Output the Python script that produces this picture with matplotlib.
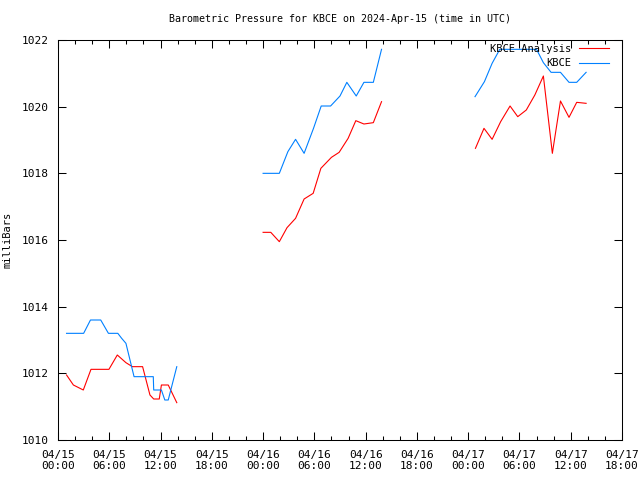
import matplotlib
matplotlib.use("Agg")
import matplotlib.pyplot as plt
import numpy as np

# hours since 2024-04-15 00:00 UTC
analysis_t = [
    [1.0, 1.8, 2.96, 3.86, 5.96, 6.94, 7.95, 8.7, 9.9, 10.76, 11.2, 11.85, 12.1, 12.9, 13.9],
    [24.0, 24.9, 25.9, 26.8, 27.8, 28.8, 29.86, 30.76, 32.0, 32.9, 33.95, 34.85, 35.8, 36.9, 37.86],
    [48.85, 49.85, 50.8, 51.8, 52.9, 53.8, 54.8, 55.8, 56.8, 57.85, 58.8, 59.8, 60.7, 61.8],
]
analysis_v = [
    [1011.95, 1011.65, 1011.5, 1012.12, 1012.12, 1012.55, 1012.32, 1012.2, 1012.2, 1011.35, 1011.23, 1011.23, 1011.65, 1011.65, 1011.12],
    [1016.23, 1016.23, 1015.95, 1016.37, 1016.65, 1017.23, 1017.4, 1018.15, 1018.48, 1018.63, 1019.05, 1019.58, 1019.48, 1019.52, 1020.15],
    [1018.75, 1019.35, 1019.02, 1019.55, 1020.02, 1019.7, 1019.9, 1020.35, 1020.92, 1018.6, 1020.17, 1019.68, 1020.13, 1020.1],
]
kbce_t = [
    [1.0, 3.0, 3.8, 5.0, 5.9, 7.0, 7.45, 7.95, 8.9, 11.15, 11.2, 12.1, 12.5, 12.9, 13.9],
    [24.0, 25.9, 26.9, 27.8, 28.8, 29.9, 30.8, 31.9, 33.0, 33.8, 34.9, 35.8, 36.9, 37.86],
    [48.8, 49.9, 50.8, 51.7, 52.8, 53.8, 54.8, 56.0, 56.8, 57.7, 58.8, 59.8, 60.7, 61.8],
]
kbce_v = [
    [1013.2, 1013.2, 1013.6, 1013.6, 1013.2, 1013.2, 1013.05, 1012.9, 1011.9, 1011.9, 1011.5, 1011.5, 1011.2, 1011.2, 1012.2],
    [1018.0, 1018.0, 1018.65, 1019.02, 1018.6, 1019.35, 1020.02, 1020.02, 1020.32, 1020.73, 1020.32, 1020.73, 1020.73, 1021.72],
    [1020.3, 1020.75, 1021.3, 1021.72, 1021.72, 1021.72, 1021.72, 1021.72, 1021.32, 1021.03, 1021.03, 1020.73, 1020.73, 1021.03],
]

xtick_pos = [0, 6, 12, 18, 24, 30, 36, 42, 48, 54, 60, 66]
xtick_labels = ["04/15\n00:00", "04/15\n06:00", "04/15\n12:00", "04/15\n18:00",
                "04/16\n00:00", "04/16\n06:00", "04/16\n12:00", "04/16\n18:00",
                "04/17\n00:00", "04/17\n06:00", "04/17\n12:00", "04/17\n18:00"]
yticks = [1010, 1012, 1014, 1016, 1018, 1020, 1022]

plt.rcParams['font.family'] = ['DejaVu Sans Mono']
fig = plt.figure(figsize=(6.4, 4.8), dpi=100)
ax = fig.add_axes([58/640, 40/480, 564/640, 400/480])

red = '#ff0000'
blue = '#0080ff'
for i, (t, v) in enumerate(zip(analysis_t, analysis_v)):
    ax.plot(t, v, color=red, lw=0.8, antialiased=True, label='KBCE Analysis' if i == 0 else None)
for i, (t, v) in enumerate(zip(kbce_t, kbce_v)):
    ax.plot(t, v, color=blue, lw=0.8, antialiased=True, label='KBCE' if i == 0 else None)

ax.set_xlim(0, 66)
ax.set_ylim(1010, 1022)
ax.set_xticks(xtick_pos)
ax.set_xticklabels(xtick_labels, fontsize=8)
ax.set_xticks(np.arange(0, 67, 2), minor=True)
ax.set_yticks(yticks)
ax.set_yticklabels([str(y) for y in yticks], fontsize=8)
ax.tick_params(which='both', direction='in', top=True, right=True, width=0.75)
ax.tick_params(which='major', length=6)
ax.tick_params(axis='x', which='major', pad=7)
ax.tick_params(axis='y', which='major', pad=7)
ax.tick_params(which='minor', length=3)
for s in ax.spines.values():
    s.set_linewidth(0.75)

ax.set_ylabel('milliBars', fontsize=7.5, labelpad=6)
ax.set_title('Barometric Pressure for KBCE on 2024-Apr-15 (time in UTC)', fontsize=7.2, pad=13)

leg = ax.legend(loc='upper right', bbox_to_anchor=(0.979, 0.995), frameon=False,
                markerfirst=False, fontsize=7.5, handlelength=2.8, borderaxespad=0.0,
                borderpad=0.15, labelspacing=0.45, handletextpad=0.75)

fig.savefig('out.png', dpi=100)
